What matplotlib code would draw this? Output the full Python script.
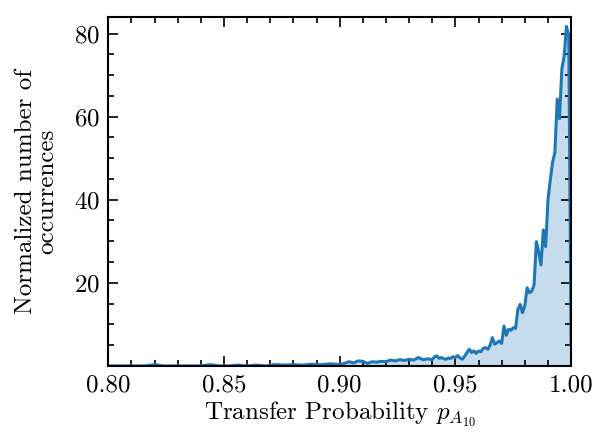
import matplotlib
matplotlib.use("Agg")
import matplotlib.pyplot as plt
from matplotlib.ticker import MultipleLocator, FormatStrFormatter

plt.rcParams["font.family"] = "serif"
plt.rcParams["font.serif"] = ["cmr10"]
plt.rcParams["mathtext.fontset"] = "cm"
plt.rcParams["axes.formatter.use_mathtext"] = True

# transfer probability bin centres and normalized counts
prob_low = [0.800, 0.804, 0.808, 0.812, 0.816, 0.820, 0.824, 0.828, 0.832,
            0.836, 0.840, 0.844, 0.848, 0.852, 0.856, 0.860, 0.864, 0.868,
            0.872, 0.876, 0.880, 0.884, 0.888, 0.892, 0.896]
occ_low = [0.0, 0.0, 0.0, 0.0, 0.0, 0.3, 0.0, 0.0, 0.0,
           0.0, 0.0, 0.3, 0.0, 0.0, 0.2, 0.0, 0.2, 0.0,
           0.3, 0.2, 0.3, 0.2, 0.4, 0.3, 0.5]

prob_mid = [0.900, 0.902, 0.904, 0.906, 0.908, 0.910, 0.912, 0.914, 0.916,
            0.918, 0.920, 0.922, 0.924, 0.926, 0.928, 0.930, 0.932, 0.934,
            0.936, 0.938]
occ_mid = [0.3, 0.6, 1.0, 0.7, 1.2, 1.1, 0.6, 1.0, 0.9,
           1.1, 1.0, 1.4, 1.2, 1.5, 1.3, 1.6, 1.4, 2.0,
           1.5, 1.7]

prob_high = [0.940, 0.941, 0.942, 0.943, 0.944, 0.945, 0.946, 0.947, 0.948,
             0.949, 0.950, 0.951, 0.952, 0.953, 0.954, 0.955, 0.956, 0.957,
             0.958, 0.959, 0.960, 0.961, 0.962, 0.963, 0.964, 0.965, 0.966,
             0.967, 0.968, 0.969, 0.970, 0.971, 0.972, 0.973, 0.974, 0.975,
             0.976, 0.977, 0.978, 0.979, 0.980, 0.981, 0.982, 0.983, 0.984,
             0.985, 0.986, 0.987, 0.988, 0.989, 0.990, 0.991, 0.992, 0.993,
             0.994, 0.995, 0.996, 0.997, 0.998, 0.999, 1.000]
occ_high = [1.5, 2.2, 2.4, 1.8, 2.0, 1.7, 1.6, 1.9, 1.8,
            2.2, 2.0, 2.5, 1.9, 1.6, 2.3, 3.2, 4.0, 3.2,
            3.6, 3.0, 3.6, 3.4, 4.2, 4.4, 4.0, 5.0, 6.8,
            5.2, 5.6, 6.0, 5.4, 9.6, 7.4, 8.8, 8.6, 9.2,
            9.0, 13.6, 14.8, 12.8, 14.5, 18.8, 17.6, 18.0, 19.5,
            29.9, 27.5, 24.3, 32.7, 28.7, 39.9, 44.7, 49.0, 51.4,
            64.2, 59.5, 71.4, 74.6, 81.7, 79.4, 5.0]

prob = prob_low + prob_mid + prob_high
occ = occ_low + occ_mid + occ_high

fig = plt.figure(figsize=(5.98, 4.33), dpi=100)
ax = fig.add_axes([0.181, 0.155, 0.774, 0.806])

ax.fill_between(prob, occ, 0, color="#1f77b4", alpha=0.25, linewidth=0)
ax.plot(prob, occ, color="#1f77b4", linewidth=2.2)

ax.set_xlim(0.8, 1.0)
ax.set_ylim(0, 84)

ax.xaxis.set_major_locator(MultipleLocator(0.05))
ax.xaxis.set_minor_locator(MultipleLocator(0.01))
ax.xaxis.set_major_formatter(FormatStrFormatter("%.2f"))
ax.set_yticks([20, 40, 60, 80])
ax.yaxis.set_minor_locator(MultipleLocator(5))

ax.tick_params(which="both", direction="in", top=True, right=True,
               labelsize=18, width=1.2)
ax.tick_params(which="major", length=7, pad=6)
ax.tick_params(which="minor", length=4)
for sp in ax.spines.values():
    sp.set_linewidth(1.5)

ax.set_xlabel(r"Transfer Probability $p_{A_{10}}$", fontsize=18, labelpad=2)
ax.set_ylabel("Normalized number of\noccurrences", fontsize=18,
              linespacing=1.0, labelpad=11)

fig.savefig("out.png", dpi=100)
